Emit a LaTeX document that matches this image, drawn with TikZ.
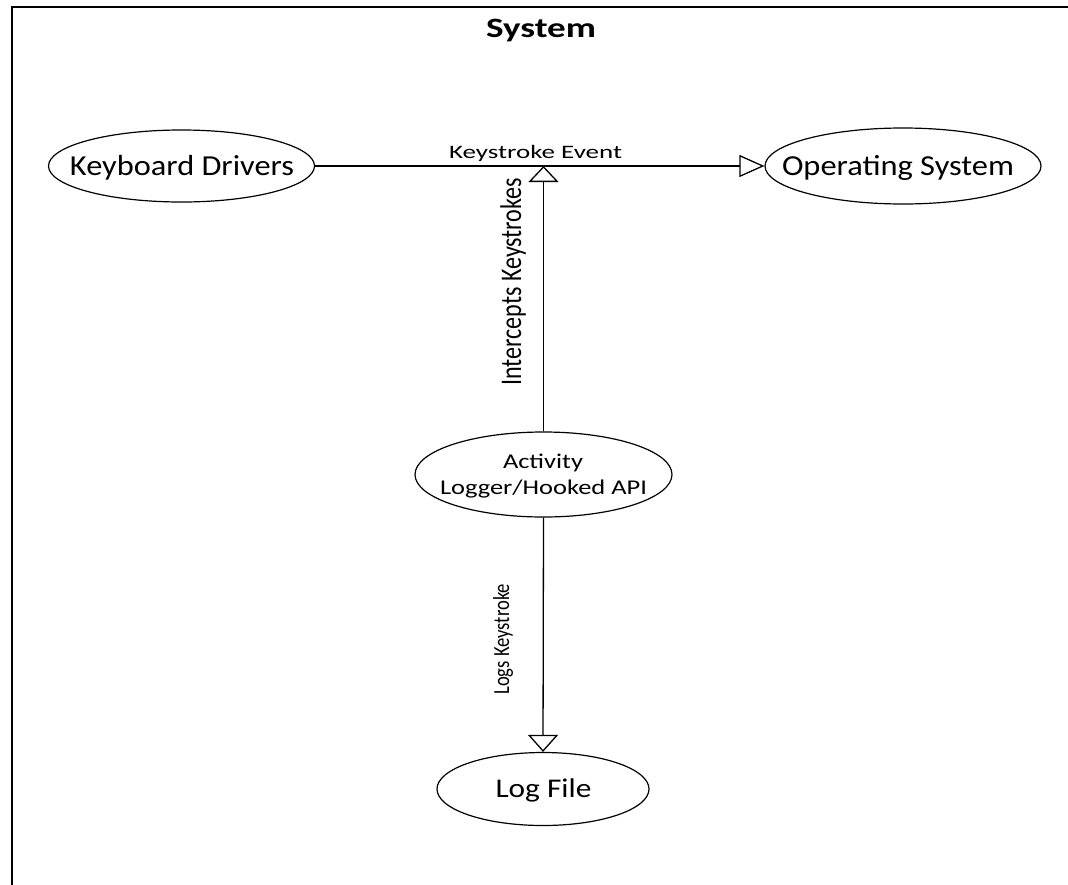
\documentclass[tikz,border=0pt]{standalone}
\usepackage{fontspec}
\setmainfont{Carlito}
\usetikzlibrary{shapes.geometric,arrows.meta}

% set text at its natural height, stretched to a given width
\newcommand{\fw}[2]{\resizebox{#1}{\height}{#2}}

\tikzset{
  usecase/.style={draw, ellipse, line width=1.2pt, inner sep=0pt},
  caption/.style={inner sep=0pt, anchor=base},
  vcaption/.style={inner sep=0pt, anchor=base west, rotate=90},
  flow/.style={line width=1.3pt},
  frame/.style={line width=2pt},
}

\begin{document}
\begin{tikzpicture}[x=1pt, y=-1pt]
  \useasboundingbox (0,0) rectangle (1068,884);
  \clip (0,0) rectangle (1068,884);
  \fill[white] (0,0) rectangle (1068,884);

  % system boundary, continuing past the right and bottom edges
  \draw[frame] (11.7,900) -- (11.7,6.5) -- (1090,6.5);
  \node[caption, font=\fontsize{28}{32}\selectfont\bfseries] (title) at (541,37) {\fw{110pt}{System}};

  % use cases
  \node[usecase, minimum width=266pt, minimum height=72pt] (kd) at (181.5,166) {};
  \node[usecase, minimum width=276pt, minimum height=76pt] (os) at (903,166) {};
  \node[usecase, minimum width=257pt, minimum height=85pt] (act) at (543.5,474.5) {};
  \node[usecase, minimum width=212pt, minimum height=73pt] (lf) at (543,789) {};

  \node[caption, font=\fontsize{29}{34}\selectfont] (kd-t) at (182,175) {\fw{224pt}{Keyboard Drivers}};
  \node[caption, font=\fontsize{29}{34}\selectfont] (os-t) at (898,175) {\fw{232pt}{Operating System}};
  \node[caption, font=\fontsize{21}{25}\selectfont] (act-t1) at (543,468) {\fw{80pt}{Activity}};
  \node[caption, font=\fontsize{21}{25}\selectfont] (act-t2) at (543.5,494) {\fw{207pt}{Logger/Hooked API}};
  \node[caption, font=\fontsize{27}{32}\selectfont] (lf-t) at (543.5,797) {\fw{96pt}{Log File}};

  % keystroke event from the drivers to the operating system
  \draw[flow, -{Triangle[open, length=25pt, width=22pt]}] (kd.east) -- (os.west);
  \coordinate (hook) at (act.north |- kd.east);
  \node[caption, font=\fontsize{19}{22}\selectfont] (ke) at (535.5,158) {\fw{173pt}{Keystroke Event}};

  % interception by the hooked API
  \draw[flow, -{Triangle[open, length=16pt, width=30pt]}] (act.north) -- (hook);
  \node[vcaption, font=\fontsize{30}{34}\selectfont] (ik) at (521,386) {\fw{208pt}{Intercepts Keystrokes}};

  % logging to file
  \draw[flow, -{Triangle[open, length=17pt, width=30pt]}] (act.south) -- (lf.north);
  \node[vcaption, font=\fontsize{23}{27}\selectfont] (lk) at (509,695) {\fw{111pt}{Logs Keystroke}};
\end{tikzpicture}
\end{document}
